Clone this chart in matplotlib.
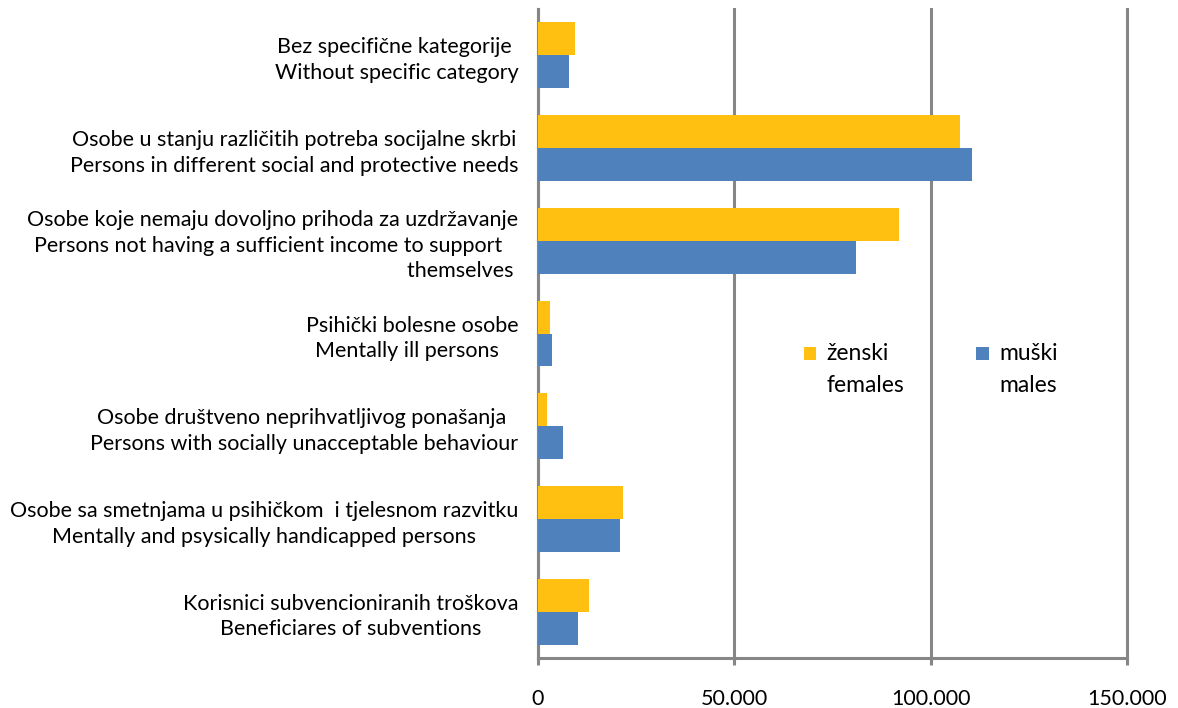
import matplotlib
matplotlib.use("Agg")
import matplotlib.pyplot as plt
from matplotlib.patches import Rectangle
from matplotlib.container import BarContainer
from matplotlib.legend_handler import HandlerPatch, update_from_first_child
import numpy as np

plt.rcParams["font.family"] = ["Lato", "DejaVu Sans"]

categories = [
    "Bez specifične kategorije \nWithout specific category",
    "Osobe u stanju različitih potreba socijalne skrbi\nPersons in different social and protective needs",
    "Osobe koje nemaju dovoljno prihoda za uzdržavanje\nPersons not having a sufficient income to support   \nthemselves ",
    "Psihički bolesne osobe\nMentally ill persons  ",
    "Osobe društveno neprihvatljivog ponašanja \nPersons with socially unacceptable behaviour",
    "Osobe sa smetnjama u psihičkom  i tjelesnom razvitku\nMentally and psysically handicapped persons",
    "Korisnici subvencioniranih troškova\nBeneficiares of subventions",
]
label_align = ["center", "center", "right", "center", "center", "center", "center"]
females = [9500, 107400, 91900, 3000, 2400, 21600, 12900]
males = [7900, 110600, 81000, 3600, 6300, 21000, 10100]
xticks = [0, 50000, 100000, 150000]
xticklabels = ["0", "50.000", "100.000", "150.000"]

yellow = "#FFC012"
blue = "#4F81BD"
grey = "#868686"


def top_square(legend, orig_handle, xdescent, ydescent, width, height, fontsize):
    # square sits next to the first line of the two-line label
    return Rectangle((-xdescent, -ydescent + 0.7 * fontsize), width, height)


fig = plt.figure(figsize=(11.78, 7.08), dpi=100)
ax = fig.add_axes([0.4567, 0.0706, 0.5, 0.9167])

y = np.arange(len(categories))
h = 0.355
ax.barh(y - h / 2, females, height=h, color=yellow, label="ženski\nfemales", zorder=3)
ax.barh(y + h / 2, males, height=h, color=blue, label="muški\nmales", zorder=3)

ax.set_ylim(len(categories) - 0.5, -0.5)
ax.set_xlim(0, 150000)
ax.set_xticks(xticks)
ax.set_xticklabels(xticklabels, fontsize=15.5)
ax.set_yticks(y)
ax.set_yticklabels(categories, fontsize=15.5)
for lbl, al in zip(ax.get_yticklabels(), label_align):
    lbl.set_multialignment(al)
    lbl.set_linespacing(1.35)

ax.tick_params(axis="y", length=0, pad=14)
ax.tick_params(axis="x", length=5, width=2.2, color=grey, pad=17)
for side in ["top", "right"]:
    ax.spines[side].set_visible(False)
for side in ["left", "bottom"]:
    ax.spines[side].set_color(grey)
    ax.spines[side].set_linewidth(2.2)
ax.grid(axis="x", color=grey, linewidth=2.2, zorder=1)
ax.set_axisbelow(True)
for gl in ax.get_xgridlines():
    gl.set_clip_on(False)

leg = ax.legend(
    loc="center left",
    bbox_to_anchor=(0.416, 0.445),
    ncol=2,
    frameon=False,
    fontsize=16.5,
    handlelength=0.55,
    handleheight=0.55,
    handletextpad=0.45,
    columnspacing=3.15,
    handler_map={BarContainer: HandlerPatch(patch_func=top_square,
                                            update_func=update_from_first_child)},
)
for t in leg.get_texts():
    t.set_linespacing(1.65)

fig.savefig("out.png", dpi=100)
